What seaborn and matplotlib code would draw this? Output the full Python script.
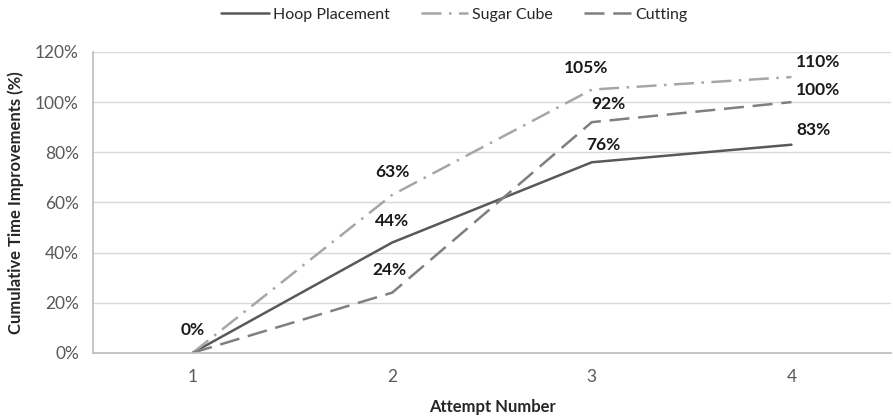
import matplotlib
matplotlib.use("Agg")
import matplotlib.pyplot as plt
import seaborn as sns
import pandas as pd
from matplotlib.ticker import PercentFormatter

attempts = [1, 2, 3, 4]
hoop_placement = [0, 44, 76, 83]
sugar_cube = [0, 63, 105, 110]
cutting = [0, 24, 92, 100]
series_names = ["Hoop Placement", "Sugar Cube", "Cutting"]

df = pd.DataFrame({
    "Attempt": attempts * 3,
    "Value": hoop_placement + sugar_cube + cutting,
    "Series": [n for n in series_names for _ in attempts],
})

sns.set_theme(style="white")
plt.rcParams["font.family"] = ["Lato", "DejaVu Sans"]

colors = {"Hoop Placement": "#595959", "Sugar Cube": "#A6A6A6", "Cutting": "#7F7F7F"}
dashes = {"Hoop Placement": "", "Sugar Cube": (8, 3, 1, 3), "Cutting": (8, 3.5)}

fig = plt.figure(figsize=(8.93, 4.19), dpi=100)
ax = fig.add_axes([0.104, 0.158, 0.894, 0.718])

sns.lineplot(data=df, x="Attempt", y="Value", hue="Series", style="Series",
             palette=colors, dashes=dashes, hue_order=series_names,
             style_order=series_names, linewidth=1.8, ax=ax, legend=True)

ax.set_xlim(0.5, 4.5)
ax.set_ylim(0, 120)
ax.set_xticks(attempts)
ax.set_xticklabels([str(a) for a in attempts])
ax.set_yticks(range(0, 121, 20))
ax.yaxis.set_major_formatter(PercentFormatter(decimals=0))
ax.tick_params(axis="both", labelsize=12.5, colors="#595959", length=0)
ax.tick_params(axis="x", pad=12)
ax.tick_params(axis="y", pad=10)
ax.grid(axis="y", color="#D9D9D9", linewidth=1)
for side in ["top", "right"]:
    ax.spines[side].set_visible(False)
ax.spines["left"].set_color("#BFBFBF")
ax.spines["bottom"].set_color("#BFBFBF")

ax.set_xlabel("Attempt Number", fontsize=12, fontweight="bold", color="#262626", labelpad=10)
ax.set_ylabel("Cumulative Time Improvements (%)", fontsize=12, fontweight="bold",
              color="#262626", labelpad=8)

# value labels near each point: (dx, dy) offsets in pixels
offsets = {
    "Hoop Placement": [(0, 23), (0, 21), (12, 17), (22, 15)],
    "Sugar Cube": [None, (0, 23), (-6, 22), (27, 15)],
    "Cutting": [None, (-3, 23), (17, 18), (27, 12)],
}
label_style = dict(fontsize=12.5, fontweight="bold", color="#1a1a1a", ha="center", va="center")
for name, vals in zip(series_names, [hoop_placement, sugar_cube, cutting]):
    for a, v, off in zip(attempts, vals, offsets[name]):
        if off is None:
            continue
        ax.annotate(f"{v}%", (a, v), xytext=off, textcoords="offset pixels", **label_style)

handles, labels = ax.get_legend_handles_labels()
ax.legend(handles, labels, loc="center", bbox_to_anchor=(0.453, 1.123), ncol=3,
          frameon=False, fontsize=11.5, handlelength=3.0, columnspacing=1.9, handletextpad=0.25)

fig.savefig("out.png", dpi=100)
